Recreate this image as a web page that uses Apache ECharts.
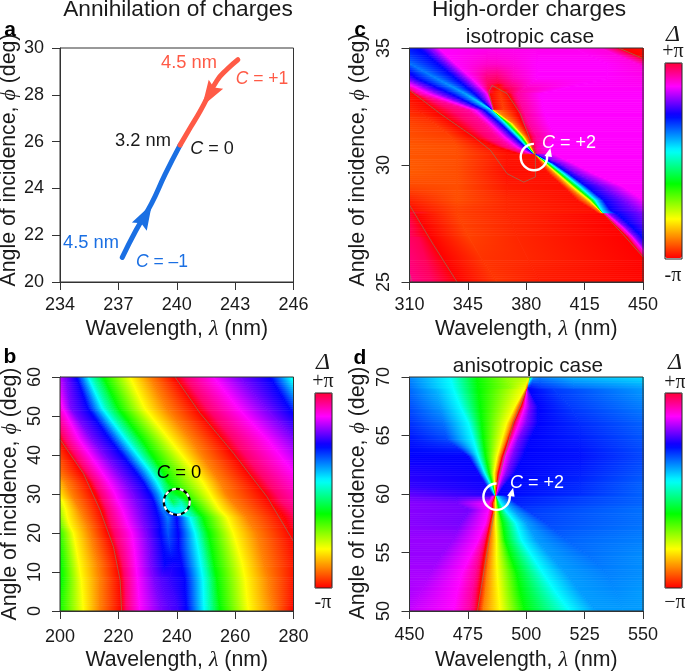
<!DOCTYPE html>
<html><head><meta charset="utf-8">
<style>html,body{margin:0;padding:0;background:#fff}#m{width:685px;height:671px}</style>
<script src="https://cdn.jsdelivr.net/npm/echarts@6/dist/echarts.min.js"></script>
</head><body><div id="m"></div>
<script>
// ---------- panel a: charge positions (wavelength nm, angle deg)
const chargeMinus=[[237.2,21.05],[237.9,22.2],[238.7,23.35],[239.4,24.6],[240.17,25.85]];
const chargePlus=[[240.17,25.85],[240.7,26.6],[241.2,27.3],[242.06,28.6],[242.6,29.1],[243.14,29.5]];
const arrowMinus=[[238.4,22.85]];
const arrowPlus=[[241.66,27.98]];
// ---------- colour bar: position (%) and colour
const barPos=[0,10,20,38,55,73,88,100];
const barCol=['#ff0000','#ff8000','#ffff00','#00ff00','#00ffff','#0000ff','#ff00ff','#ff0038'];
// ---------- panel b: phase (colour-bar %, unwrapped), rows of wavelength
const bPhi=[60,52,44,36,33,30,28,26,24,22,20,16,12,8,4,0];
const bHueFixed=[60,38,20,10,0,-12,-20];
const bHueEnd=[-62,-80,-90,-100,-112,-120,-127,-145,-165];
const bHueVar=[[-27,-33,-39,-45,-51,-56],[-27,-33,-39,-45,-51,-56],[-27,-33,-39,-45,-51,-56],[-27,-33,-39,-45,-51,-56],[-27,-33,-39,-45,-51,-56],[-27,-33,-39,-45,-55,-60],[-27,-33,-39,-45,-58,-50],[-27,-33,-39,-45,-46,-45],[-27,-36,-27,-45,-50,-56],[-27,-34,-27,-45,-50,-56],[-27,-33,-27,-45,-50,-56],[-27,-30,-27,-45,-50,-56],[-27,-26,-27,-45,-50,-56],[-22,-24,-27,-45,-50,-56],[-22,-23.5,-27,-45,-50,-56],[-22,-23.5,-27,-45,-50,-56]];
const bLam=[
[150,168,174,180,186,198,202,205.7,207,208.4,209.7,211.4,213.2,214.9,224,230.9,239.4,252.6,261.7,272,278.9,285],
[150,176,184,190,195,201,203.7,209.5,211.2,212.9,214.5,216.3,218.1,220,229,236.5,247,261,270.5,278.5,286,292],
[150,180,188,194,200,206.5,211,217,218.9,220.7,222.5,224.3,226.1,228,237.5,245,255.5,271,280.5,288,296,302],
[150,186,193,198.5,207,214,219.5,225.5,227.2,229,230.7,232.2,233.7,235,246,252.2,263.7,279.5,290,298,306,312],
[150,190,197,202,210,216.7,222.5,228.5,230,231.7,233.3,234.8,236,237,249,255,267,283,293,301,309,315],
[150,192,199,204,212,218.9,225,230.9,232.3,234,235.4,237,239,241,251.4,257,270.3,286,296,304,312,318],
[150,194,201,205.3,213.2,220,226.2,232.2,233.5,235,236.4,238.7,241.5,244.3,253,259,272,288,298,306,314,320],
[150,195.5,202,206.8,214.3,221.3,227.3,233,234.5,236,237.3,239.5,242,246.7,254.7,261.5,274.5,291,300,308,316,322],
[150,197,202.5,208,215,222.3,228,233.7,237,240,244.5,246,247.5,249,257.3,264,276.8,293,302,310,318,324],
[150,198,203.3,209.3,215.8,223.3,228.8,234.2,237,240.2,245.4,246.8,248.2,249.8,258.3,265.5,278,295,304,312,320,326],
[150,199,204.6,210.3,216.6,224.6,229.7,234.3,237,240.6,246.3,247.7,249.2,250.9,259.4,267.4,279.4,296,305,313,321,327],
[150,199.7,205.6,211.6,218.5,225.4,230.6,235.3,237.7,240.6,247.3,248.8,250.3,251.9,261,268.8,281,297,306,314,322,328],
[150,200.3,206.5,213,220,226,231,236,238.7,241.7,248.2,249.7,251.2,252.8,262.5,270,282,298,307,315,323,329],
[150,200.5,207.3,213.7,220.8,226.6,232.3,234.5,237.5,242.8,249,250.6,252.2,253.8,263.5,271.5,281.5,298,307,315,323,329],
[150,199.8,207.7,213.7,221,227,233.5,236,239,243,249.2,250.9,252.6,254.3,264,272,281.2,298,307,315,323,329],
[150,199.5,208,213.7,221.1,227.4,235,238,240.5,243.4,249.4,251.2,253,254.9,264.6,273,280,296,305,313,321,327]];
// thin contour lines of panel b
const bLineL=[[200,44],[208,35.3],[213.7,25.9],[218.3,16.5],[220.6,7.9],[221.1,0]];
const bLineR=[[239.4,60],[248,50.7],[259.4,40.5],[270.9,29.3],[280,17.8]];
const bCircle=[[240,28]];
// ---------- panel c: four zones
const c1Phi=[35,34.33,33.69,33.05,32.34];
const c1Hue=[
[5,0,-6,-12,-20,-27,-33,-27,-20,-12,-11,-11,-11,-11,-11,-10,0,3],
[5,0,-6,-12,-20,-27,-35,-27,-20,-12,-9,-9,-10,-12,-12,-10,0,3],
[5,0,-6,-12,-20,-27,-36,-27,-20,-12,-4,-3,-8,-12,-12,-10.5,-5,-3],
[5,0,-6,-12,-20,-27,-38,-27,-20,-12,0,4,0,-6,-12,-12,-12,-12],
[5,0,-6,-12,-20,-27,-45,-27,-20,-12,0,5,0,-6,-12,-12,-12,-12]];
const c1Lam=[
[228.5,248.5,256.5,264.5,272.5,280.5,292.5,315.5,321.5,327.5,356.5,362.5,372.5,386.5,408.5,424.5,435.5,476.5],
[248.5,268.5,280.5,288.5,294.5,302.5,310.1,326.9,332.5,337.5,356.5,362.5,372.5,386.5,428.5,446.5,457.5,476.5],
[268.5,298.5,300.5,302.5,308.5,314.5,326.5,337.9,342.9,347.5,356.5,362.5,372.5,386.5,428.5,460.5,476.5,488.5],
[288.5,312.9,315.5,321.5,327.5,334.5,343.5,348.9,352.9,356.5,357.9,364.5,369.5,374.5,388.5,468.5,476.5,488.5],
[298.5,325.5,345.5,349.5,352.5,354.9,359.7,359.9,360.1,360.3,360.7,366.5,374.5,378.5,390.5,468.5,476.5,488.5]];
const c2Phi=[32.34,31.77,31.2,30.77,30.46];
const c2HueLeft=[[6,2],[7,4],[7,5],[7.5,6],[7,6]];
const c2HueCols=[0,-6,-12,-20,-27,-45,-62,-80,-90,-100,-106,-112,-112];
const c2Lam=[
[288.5,315,325.5,345.5,349.5,352.5,354.9,359.7,359.9,360.1,361.7,374.5,378.5,390.5,476.5],
[288.5,325,337.1,354.9,358.5,361.5,364.5,367.5,369.1,371.1,372.5,377.7,381.5,393.5,476.5],
[288.5,335,348.5,362.5,366.9,370.1,372.9,375.3,377.1,378.3,379.5,381.9,386.5,398.5,476.5],
[288.5,338.5,362.5,370.5,374.5,377.5,379.5,380.5,381.5,382.5,383.1,383.9,386.5,392.5,476.5],
[288.5,338.5,376.5,381.5,383.5,384.5,384.9,385.1,385.1,385.1,385.3,385.5,386.9,396.5,476.5]];
const c3Phi=[30.46,30.06,29.63,29.06,28.49,28.06,27.92];
const c3HueLeft=[[6.6,6,1.3],[7,6,1.2],[7,6,1],[5.5,6,2],[2.5,6,3],[0.5,5,3],[-0.5,5,3]];
const c3HueCols=[1,10,20,38,55,73,80,88,88];
const c3Lam=[
[308.5,338.5,368.5,385.1,385.3,385.5,385.5,385.5,385.5,386.5,396.5,476.5],
[308.5,338.5,368.5,388.5,390.5,391.7,392.9,394.5,396.5,400.5,408.5,476.5],
[308.5,338.5,368.5,393.5,396.9,398.7,400.3,402.5,405.5,410.5,420.5,476.5],
[308.5,338.5,368.5,402.5,405.5,407.9,409.9,412.5,416.5,426.5,438.5,476.5],
[308.5,338.5,368.5,410.5,415.5,417.9,419.5,421.5,426.5,438.5,450.5,476.5],
[308.5,338.5,368.5,420.5,423.5,424.1,424.5,425.1,430.5,445.5,458.5,476.5],
[308.5,338.5,368.5,423.5,425.5,426.1,426.3,426.5,434.5,449.5,462.5,476.5]];
const c4Phi=[27.92,27.35,26.92,26.07,25];
const c4Hue=[
[-1,0,5,3,0,-6,-12,-20,-27,-20,-12,-12],
[-3,0,5,3,0,-6,-12,-20,-27,-20,-12,-12],
[-3,0,5,3,0,-6,-12,-20,-27,-20,-12,-12],
[-4,0,4,3,0,-6,-12,-20,-27,-20,-12,-12],
[-5,0,4,2,0,-6,-12,-20,-27,-20,-12,-12]];
const c4Lam=[
[308.5,313.5,338.5,368.5,426.5,427.1,428.1,430.1,434.5,449.5,462.5,476.5],
[308.5,318.5,342.5,372.5,434.5,435.5,437.5,439.5,443.5,454.5,468.5,476.5],
[308.5,322.1,345.5,374.5,440.5,442.1,443.5,445.5,449.5,458.5,470.5,476.5],
[308.5,329.5,352.5,380.5,450.1,451.5,453.5,455.5,459.5,468.5,474.5,476.5],
[308.5,338.5,362.5,388.5,463.5,465.5,467.5,469.5,472.5,474.5,475.5,476.5]];
const cLines=[
[[310.1,33.19],[328.5,32.19],[348.5,31.2],[358.5,30.63],[368.5,29.63],[378.5,29.27],[385.5,29.49],[385.5,30.48],[382.5,31.05],[376.5,32.19],[368.5,33.05],[359.5,33.4],[357.5,33.12],[360.5,32.34]],
[[310.1,28.28],[324.5,26.57],[338.5,25]],
[[435.5,35],[450,34.55]],
[[426.5,27.92],[438.5,27],[450,26.07]],
[[310,25.36],[311.5,25]]];
const cRing=[[384.6,30.34]];
// ---------- panel d: zones
const d1Phi=[70,68.97];
const d1Hue=[[64,55,38,28,25,24],[66,55,38,28,20,0]];
const d1Lam=[[448.9,467.4,478.8,491.6,500.2,501.6],[448.9,468.8,479.5,493,499.4,500.6]];
const d1bHue=[[-62,-45,-38,-36,-40,-43],[-27,-27,-27,-30,-34,-38]];
const d1bLam=[[501.6,502.4,503.3,505.9,520.1,550.7],[500.6,501,501.6,505.9,520.1,550.7]];
const d2Phi=[68.97,67.49,66.06,64.63,63.2,61.77,60.63,59.83];
const d2Hue=[
[66,60,55,38,20,10,0,-12,-20,-27,-31,-38],
[68,62,55,38,20,10,0,-12,-20,-27,-31,-36],
[70,65,55,38,20,10,0,-12,-20,-27,-30,-34],
[72,68,55,38,20,10,0,-12,-20,-27,-29,-33],
[73,73,55,38,20,10,0,-12,-20,-27,-28,-32],
[75,73.5,55,38,20,10,0,-12,-20,-27,-29,-33],
[76,74,55,38,20,10,0,-12,-20,-27,-30,-34],
[79,75,55,38,20,10,0,-12,-20,-27,-30,-34]];
const d2Lam=[
[448.9,461.7,468.8,479.5,499.4,500,500.3,500.4,500.6,501,511.6,550.7],
[448.9,463.1,471.7,480.2,495.2,496.6,498,499.4,501.6,505.1,518.7,550.7],
[448.9,464.5,475.2,480.9,491.6,493.7,494.7,497,500.2,505.1,523,550.7],
[448.9,466,477.4,481.6,489.5,491.3,492.3,494.2,496.6,501.6,523,550.7],
[448.9,475.2,479.5,482.6,487.5,488.8,489.8,491.2,494.2,498.7,523,550.7],
[448.9,479.5,482.3,484.2,486.2,487.3,488,489.5,491.6,495.2,523,550.7],
[448.9,483,485.2,485.9,486.5,486.9,487.3,488,488.8,490.2,523,550.7],
[448.9,485.9,486.8,486.9,487,487,487,487.2,487.3,487.6,523,550.7]];
const d3Phi=[59.83,59.2,58.63,57.49,56.06,54.63,53.2,51.49,50];
const d3Hue=[
[79,77,76,94,100,110,120,138,155,162,172,166],
[81,80,88,94,100,110,120,138,155,162,171,166],
[81,80,88,94,100,110,120,138,155,162,169,165],
[81,80,88,94,100,110,120,138,155,162,168,165],
[82,82,88,94,100,110,120,138,155,162,166,164],
[82,82,88,94,100,110,120,138,155,162,165,163],
[83,83,88,94,100,110,120,138,155,162,164,163],
[83,84,88,94,100,110,120,138,155,162,163,162],
[84,85,88,94,100,110,120,138,155,162,162,162]];
const d3Lam=[
[448.9,470.2,484.5,486.5,486.8,486.9,487,487.2,487.3,488.5,491.6,550.7],
[448.9,470.2,483.8,484.8,485.5,486.2,486.9,487.8,489,491.6,495.9,550.7],
[448.9,475.9,483.8,484.9,485.9,486.3,487,488.3,490.9,494.5,500.2,550.7],
[448.9,471.7,482.5,483.8,484.5,485.5,486.9,489.9,495.6,500.2,508.7,550.7],
[448.9,468.8,479.5,481.6,483.1,484.8,487.3,490.9,498,504.4,517.3,550.7],
[448.9,463.1,475.9,479.5,481.9,484.1,487.3,493.3,502.7,510.8,527.2,550.7],
[448.9,458.8,472.4,478.1,480.9,483.3,487.6,495.9,507.3,517.3,534.4,550.7],
[448.9,454.6,470.2,476.6,479.9,482.5,488.2,497.6,513,523.7,538.6,550.7],
[448.9,451.7,468.8,475.9,479.1,481.6,488.8,499.4,518.7,530.1,541.5,550.7]];
const dLines=[[[479.1,50],[483.1,54.9],[486.2,58.3]],[[487.3,60.6],[494.5,66.1],[499.9,68.8]]];
const dRing=[[487.3,59.77]];

// ---------- tick settings
const aX=[234,246,3], aY=[20,30,2], bX=[200,280,20], bY=[0,60,10], cX=[310,450,35], cY=[25,35,5], dX=[450,550,25], dY=[50,70,5];

// ---------- helpers
const rgb=barCol.map(c=>[1,3,5].map(i=>parseInt(c.substr(i,2),16)));
function hueColor(h){let p=((h%100)+100)%100;let j=0;while(j<barPos.length-2&&p>barPos[j+1])j++;
 const t=(p-barPos[j])/(barPos[j+1]-barPos[j]);const a=rgb[j],b=rgb[j+1];
 return 'rgb('+a.map((v,i)=>Math.round(v+(b[i]-v)*t)).join(',')+')';}
const barList=[];for(let p=0;p<=100;p+=2)barList.push(hueColor(p===100?99.99:p));
function cells(phi,lam,hue){const out=[];for(let k=0;k<phi.length-1;k++)for(let i=0;i<lam[k].length-1;i++)
 out.push([lam[k][i],lam[k][i+1],lam[k+1][i],lam[k+1][i+1],phi[k],phi[k+1],hue[k][i],hue[k][i+1],hue[k+1][i],hue[k+1][i+1]]);return out;}
const bHue=bPhi.map((_,k)=>[...bHueFixed,...bHueVar[k],...bHueEnd]);
const bCells=cells(bPhi,bLam,bHue);
const cCells=[].concat(cells(c1Phi,c1Lam,c1Hue),cells(c2Phi,c2Lam,c2HueLeft.map(r=>[...r,...c2HueCols])),
 cells(c3Phi,c3Lam,c3HueLeft.map(r=>[...r,...c3HueCols])),cells(c4Phi,c4Lam,c4Hue));
const dCells=[].concat(cells(d1Phi,d1Lam,d1Hue),cells(d1Phi,d1bLam,d1bHue),cells(d2Phi,d2Lam,d2Hue),cells(d3Phi,d3Lam,d3Hue));
const L=(a,b,t)=>a+(b-a)*t;
function renderCell(params,api){
 const v=[];for(let i=0;i<10;i++)v.push(api.value(i));
 const px0=api.coord([v[0],v[4]]),px1=api.coord([v[0],v[5]]);
 const N=Math.max(1,Math.ceil(Math.abs(px1[1]-px0[1])/2)),ch=[];
 for(let s=0;s<N;s++){const t0=s/N,t1=(s+1)/N,tm=(t0+t1)/2;
  const tl=api.coord([L(v[0],v[2],t0),L(v[4],v[5],t0)]),tr=api.coord([L(v[1],v[3],t0),L(v[4],v[5],t0)]),
        bl=api.coord([L(v[0],v[2],t1),L(v[4],v[5],t1)]),br=api.coord([L(v[1],v[3],t1),L(v[4],v[5],t1)]);
  const h0=L(v[6],v[8],tm),h1=L(v[7],v[9],tm);
  const ml=[(tl[0]+bl[0])/2,(tl[1]+bl[1])/2],mr=[(tr[0]+br[0])/2,(tr[1]+br[1])/2];
  let dx=(bl[0]-tl[0]+br[0]-tr[0])/2,dy=(bl[1]-tl[1]+br[1]-tr[1])/2,len=Math.hypot(dx,dy)||1;
  let nx=dy/len,ny=-dx/len;const w=(mr[0]-ml[0])*nx+(mr[1]-ml[1])*ny;
  let fill;
  if(Math.abs(w)<0.05||Math.abs(h1-h0)<0.01)fill=hueColor((h0+h1)/2);
  else{const n=Math.max(1,Math.ceil(Math.abs(h1-h0)/3)),st=[];
   for(let q=0;q<=n;q++)st.push({offset:q/n,color:hueColor(L(h0,h1,q/n))});
   fill=new echarts.graphic.LinearGradient(ml[0],ml[1],ml[0]+nx*w,ml[1]+ny*w,st,true);}
  ch.push({type:'polygon',silent:true,shape:{points:[tl,tr,br,bl]},style:{fill:fill,stroke:fill,lineWidth:0.7}});
 }
 return {type:'group',children:ch};
}
function renderRing(params,api){
 const p=api.coord([api.value(0),api.value(1)]);
 return {type:'group',silent:true,x:p[0],y:p[1],children:[
  {type:'arc',shape:{cx:0,cy:0,r:13.2,startAngle:-Math.PI/2,endAngle:-0.15,clockwise:false},style:{fill:null,stroke:'#fff',lineWidth:2.4}},
  {type:'polygon',shape:{points:[[16.5,-9],[10.5,-1],[18,0]]},style:{fill:'#fff'}}]};
}
const FONT='"Liberation Sans",Arial,sans-serif',GREEK='"Liberation Serif",serif',INK='#1a1a1a';
const richName={n:{fontFamily:FONT,fontSize:21.3,color:INK},g:{fontFamily:GREEK,fontStyle:'italic',fontSize:22,color:INK}};
function xAxis(gi,t,gap,mg){return {gridIndex:gi,type:'value',min:t[0],max:t[1],interval:t[2],name:'{n|Wavelength, }{g|λ}{n| (nm)}',nameLocation:'middle',nameGap:gap,nameTextStyle:{rich:richName},
 axisLine:{show:true,onZero:false,lineStyle:{color:'#333',width:1}},axisTick:{length:8,lineStyle:{color:'#333'}},splitLine:{show:false},
 axisLabel:{fontFamily:FONT,fontSize:18,color:INK,margin:mg}};}
function yAxis(gi,t,rot,gap,mg,shift){return {gridIndex:gi,type:'value',min:t[0],max:t[1],interval:t[2],name:'{n|Angle of incidence, }{g|ϕ}{n| (deg)}',nameLocation:'middle',nameGap:gap,nameRotate:90,nameTextStyle:{rich:richName,padding:[0,0,0,shift]},
 axisLine:{show:true,onZero:false,lineStyle:{color:'#333',width:1}},axisTick:{length:8,lineStyle:{color:'#333'}},splitLine:{show:false},
 axisLabel:{fontFamily:FONT,fontSize:18,color:INK,rotate:rot,margin:mg}};}
const G=[[60,48],[60,377],[409.5,48],[409.5,377]],GW=233.5,GH=234;
function heat(i,data){return {type:'custom',xAxisIndex:i,yAxisIndex:i,renderItem:renderCell,data:data,clip:true,silent:true,animation:false,encode:{x:[0,1,2,3],y:[4,5]},z:1};}
function thin(i,d){return {type:'line',xAxisIndex:i,yAxisIndex:i,data:d,showSymbol:false,silent:true,animation:false,clip:true,lineStyle:{width:0.6,color:'#7d8a6a'},z:3};}
function ring(i,d){return {type:'custom',xAxisIndex:i,yAxisIndex:i,renderItem:renderRing,data:d,silent:true,animation:false,encode:{x:0,y:1},z:6};}
const arrowPath='path://M0,-10 L10,10 L0,7 L-10,10 Z';
const series=[
 {type:'line',xAxisIndex:0,yAxisIndex:0,data:chargeMinus,smooth:true,showSymbol:false,animation:false,silent:true,lineStyle:{color:'#1a6fe3',width:5,cap:'round'},z:3},
 {type:'line',xAxisIndex:0,yAxisIndex:0,data:chargePlus,smooth:true,showSymbol:false,animation:false,silent:true,lineStyle:{color:'#ff5a46',width:5,cap:'round'},z:3},
 {type:'scatter',xAxisIndex:0,yAxisIndex:0,data:arrowMinus,symbol:arrowPath,symbolSize:[17,26],symbolRotate:-29,itemStyle:{color:'#1a6fe3',opacity:1},animation:false,silent:true,z:4},
 {type:'scatter',xAxisIndex:0,yAxisIndex:0,data:arrowPlus,symbol:arrowPath,symbolSize:[17,26],symbolRotate:148,itemStyle:{color:'#ff5a46',opacity:1},animation:false,silent:true,z:4},
 heat(1,bCells),heat(2,cCells),heat(3,dCells),
 thin(1,bLineL),thin(1,bLineR),
 ...cLines.map(l=>thin(2,l)),...dLines.map(l=>thin(3,l)),
 {type:'scatter',xAxisIndex:1,yAxisIndex:1,data:bCircle,symbol:'circle',symbolSize:26,itemStyle:{color:'transparent',borderColor:'#000',borderWidth:2.2,opacity:1},animation:false,silent:true,z:5},
 {type:'scatter',xAxisIndex:1,yAxisIndex:1,data:bCircle,symbol:'circle',symbolSize:26,itemStyle:{color:'transparent',borderColor:'#fff',borderWidth:2.2,borderType:[4,4],opacity:1},animation:false,silent:true,z:6},
 ring(2,cRing),ring(3,dRing)];
function vm(si,x,y){return {type:'continuous',seriesIndex:si,dimension:6,min:0,max:100,left:x,top:y,itemWidth:17,itemHeight:195,padding:0,calculable:false,text:null,showLabel:false,hoverLink:false,inRange:{color:barList},outOfRange:{color:barList},textStyle:{fontSize:0}};}
function T(x,y,text,size,color,extra){return {type:'text',z:50,silent:true,style:Object.assign({x:x,y:y,text:text,fontFamily:FONT,fontSize:size,fill:color,align:'center',verticalAlign:'middle',
 rich:{i:{fontFamily:FONT,fontStyle:'italic',fontSize:size,fill:color,color:color},t:{fontFamily:FONT,fontSize:size,fill:color,color:color}}},extra||{})};}
const S={fontFamily:GREEK};
const DL={fontFamily:GREEK,fontStyle:'italic'};
function frame(x,y,w,h,c){return {type:'rect',z:40,silent:true,shape:{x:x,y:y,width:w,height:h},style:{fill:null,stroke:c||'#333',lineWidth:1}};}
const RED='#ff5a46',BLUE='#1a6fe3',TS=18.3;
const graphics=[
 frame(60,48,GW,GH),frame(60,377,GW,GH),frame(409.5,48,GW,GH),frame(409.5,377,GW,GH),
 frame(315,393,17,195,'#222'),frame(665,63,17,196,'#222'),frame(665,393,17,195,'#222'),
 T(178,10,'Annihilation of charges',22.7,INK),T(529,10,'High-order charges',22.7,INK),
 T(530,37,'isotropic case',21,INK),T(528,366,'anisotropic case',20.8,INK),
 T(10,30,'a',21,'#000',{fontWeight:'bold'}),T(360,30,'c',21,'#000',{fontWeight:'bold'}),T(10,357,'b',21,'#000',{fontWeight:'bold'}),T(360,358,'d',21,'#000',{fontWeight:'bold'}),
 T(189,63,'4.5 nm',TS,RED),T(262,79,'{i|C}{t| = +1}',17.5,RED),T(143,141,'3.2 nm',TS,INK),T(212,149,'{i|C}{t| = 0}',18,INK),T(91,243,'4.5 nm',TS,BLUE),T(162,262,'{i|C}{t| = –1}',17.5,BLUE),
 T(179,473,'{i|C}{t| = 0}',18.4,'#000'),T(569,143,'{i|C}{t| = +2}',18,'#fff'),T(537,483,'{i|C}{t| = +2}',18,'#fff'),
 T(323,363,'Δ',24,INK,DL),T(323,382,'+π',20,INK,S),T(323,603,'-π',20,INK,S),
 T(673,35,'Δ',24,INK,DL),T(673,52,'+π',20,INK,S),T(673,276,'-π',20,INK,S),
 T(675,363,'Δ',24,INK,DL),T(675,383,'+π',20,INK,S),T(675,603,'−π',20,INK,S)];
const chart=echarts.init(document.getElementById('m'),null,{renderer:'canvas'});
chart.setOption({animation:false,backgroundColor:'#fff',
 grid:G.map(g=>({left:g[0],top:g[1],width:GW,height:GH,containLabel:false,show:false,outerBoundsMode:'none'})),
 xAxis:[xAxis(0,aX,36,14),xAxis(1,bX,38,17),xAxis(2,cX,36,14),xAxis(3,dX,38,15)],
 yAxis:[yAxis(0,aY,0,39,16,10),yAxis(1,bY,90,39,16,0),yAxis(2,cY,90,40,16,10),yAxis(3,dY,90,40,16,2)],
 visualMap:[vm(4,315,393),vm(5,665,63),vm(6,665,393)],
 series:series,graphic:{elements:graphics}});
</script></body></html>
